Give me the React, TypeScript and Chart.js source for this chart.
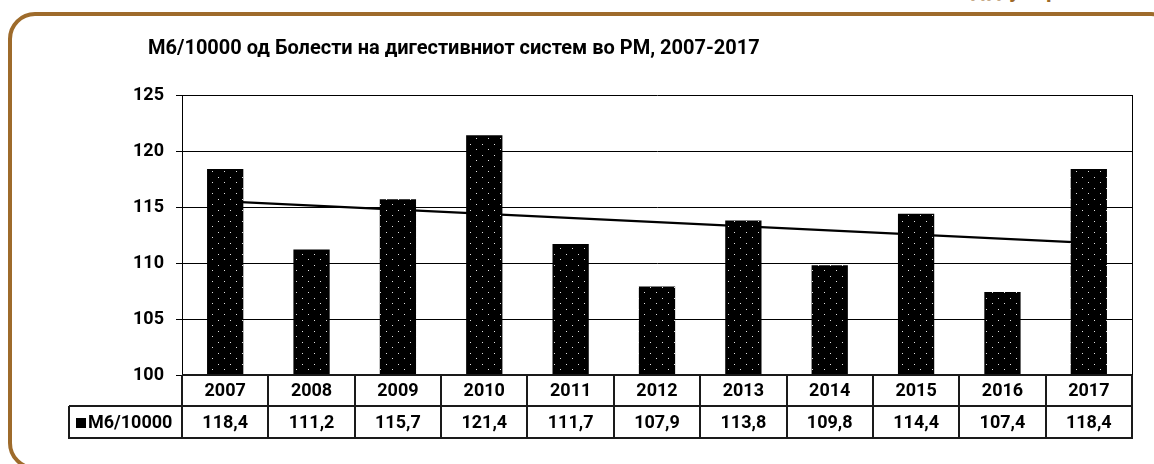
import React, { useEffect, useRef } from "react";
import { Chart, registerables } from "chart.js";

Chart.register(...registerables);

const chartTitle = "М6/10000 од Болести на дигестивниот систем во РМ, 2007-2017";
const seriesName = "М6/10000";
const years = ["2007", "2008", "2009", "2010", "2011", "2012", "2013", "2014", "2015", "2016", "2017"];
const values = [118.4, 111.2, 115.7, 121.4, 111.7, 107.9, 113.8, 109.8, 114.4, 107.4, 118.4];
const valueLabels = ["118,4", "111,2", "115,7", "121,4", "111,7", "107,9", "113,8", "109,8", "114,4", "107,4", "118,4"];
const trendStart = 115.5;
const trendEnd = 111.8;
const yMin = 100;
const yMax = 125;
const yStep = 5;
const clippedGlyphs = ["д", "д", "у", "р"];
const clippedGlyphX = [971, 987, 1009, 1046];

const FONT = "Roboto, 'Noto Sans', sans-serif";
const BROWN = "#9E6B2B";

function makePattern(ctx: CanvasRenderingContext2D) {
  const c = document.createElement("canvas");
  c.width = 12;
  c.height = 11;
  const p = c.getContext("2d")!;
  p.fillStyle = "#000";
  p.fillRect(0, 0, 12, 11);
  p.fillStyle = "#e0e0e0";
  p.fillRect(2, 1, 1, 1);
  p.fillRect(8, 6, 1, 1);
  return ctx.createPattern(c, "repeat")!;
}

const tablePlugin = {
  id: "tablePlugin",
  afterDraw(chart: any) {
    const { ctx, chartArea, scales } = chart;
    const { left, right, top, bottom } = chartArea;
    const x = scales.x;
    const n = years.length;
    const row1Bottom = bottom + 31;
    const row2Bottom = bottom + 63;
    const legendLeft = 69;
    ctx.save();

    // title
    ctx.fillStyle = "#000";
    ctx.font = `bold 20px ${FONT}`;
    ctx.textAlign = "left";
    ctx.textBaseline = "alphabetic";
    ctx.fillText(chartTitle, 148, 54);

    // right border of plot
    ctx.strokeStyle = "#000";
    ctx.lineWidth = 1;
    ctx.beginPath();
    ctx.moveTo(right + 0.5, top);
    ctx.lineTo(right + 0.5, bottom);
    ctx.stroke();

    // table lines
    ctx.strokeStyle = "#1a1a1a";
    ctx.lineWidth = 2;
    ctx.beginPath();
    const cw = (right - left) / n;
    for (let i = 0; i <= n; i++) {
      const xb = Math.round(left + i * cw);
      ctx.moveTo(xb, bottom);
      ctx.lineTo(xb, row2Bottom);
    }
    ctx.moveTo(left, bottom);
    ctx.lineTo(right, bottom);
    ctx.moveTo(legendLeft, row1Bottom);
    ctx.lineTo(right + 1, row1Bottom);
    ctx.moveTo(legendLeft - 1, row2Bottom);
    ctx.lineTo(right + 1, row2Bottom);
    ctx.moveTo(legendLeft, row1Bottom);
    ctx.lineTo(legendLeft, row2Bottom);
    ctx.stroke();

    // table text
    ctx.fillStyle = "#000";
    ctx.font = `bold 18px ${FONT}`;
    ctx.textAlign = "center";
    ctx.textBaseline = "middle";
    const y1 = (bottom + row1Bottom) / 2 + 1;
    const y2 = (row1Bottom + row2Bottom) / 2 + 1;
    years.forEach((yr, i) => {
      const cx = x.getPixelForValue(i);
      ctx.fillText(yr, cx, y1);
      ctx.fillText(valueLabels[i], cx, y2);
    });

    // legend key
    ctx.fillStyle = "#000";
    ctx.fillRect(76, Math.round(y2) - 5, 10, 10);
    ctx.textAlign = "left";
    ctx.fillText(seriesName, 88, y2);
    ctx.restore();
  },
};

export default function App() {
  const ref = useRef<HTMLCanvasElement>(null);

  useEffect(() => {
    const canvas = ref.current!;
    const ctx = canvas.getContext("2d")!;
    const pattern = makePattern(ctx);
    const trend = years.map((_, i) => (i === 0 ? trendStart : i === years.length - 1 ? trendEnd : null));
    const chart = new Chart(canvas, {
      type: "bar",
      data: {
        labels: years,
        datasets: [
          {
            type: "bar",
            label: seriesName,
            data: values,
            backgroundColor: pattern as any,
            borderWidth: 0,
            barPercentage: 0.42,
            categoryPercentage: 1,
            order: 0,
          },
          {
            type: "line",
            label: "trend",
            data: trend as any,
            borderColor: "#000",
            borderWidth: 2.2,
            pointRadius: 0,
            spanGaps: true,
            order: 1,
          } as any,
        ],
      },
      options: {
        responsive: false,
        animation: false,
        layout: { padding: { left: 0, right: 22, top: 95, bottom: 89 } },
        plugins: {
          legend: { display: false },
          title: { display: false },
          tooltip: { enabled: false },
        },
        scales: {
          x: { display: false, offset: true },
          y: {
            min: yMin,
            max: yMax,
            ticks: {
              stepSize: yStep,
              color: "#000",
              padding: 12,
              font: { family: FONT, weight: "bold", size: 18 },
            },
            grid: { color: "#000", lineWidth: 1, tickLength: 6, drawTicks: true },
            border: { display: true, color: "#000", width: 1 },
            afterFit: (s: any) => {
              s.width = 182;
            },
          },
        },
      },
      plugins: [tablePlugin],
    });
    return () => chart.destroy();
  }, []);

  return (
    <div style={{ position: "absolute", left: 0, top: 0, width: 1154, height: 464, overflow: "hidden", background: "#fff" }}>
      <div
        style={{
          position: "absolute",
          left: 8,
          top: 12,
          width: 1170,
          height: 458,
          boxSizing: "border-box",
          border: `4px solid ${BROWN}`,
          borderRadius: 27,
        }}
      />
      {clippedGlyphs.map((g, i) => (
        <span
          key={i}
          style={{
            position: "absolute",
            left: clippedGlyphX[i],
            top: -21,
            fontFamily: FONT,
            fontWeight: "bold",
            fontSize: 22,
            lineHeight: "22px",
            color: BROWN,
          }}
        >
          {g}
        </span>
      ))}
      <canvas ref={ref} width={1154} height={464} style={{ position: "absolute", left: 0, top: 0 }} />
    </div>
  );
}
